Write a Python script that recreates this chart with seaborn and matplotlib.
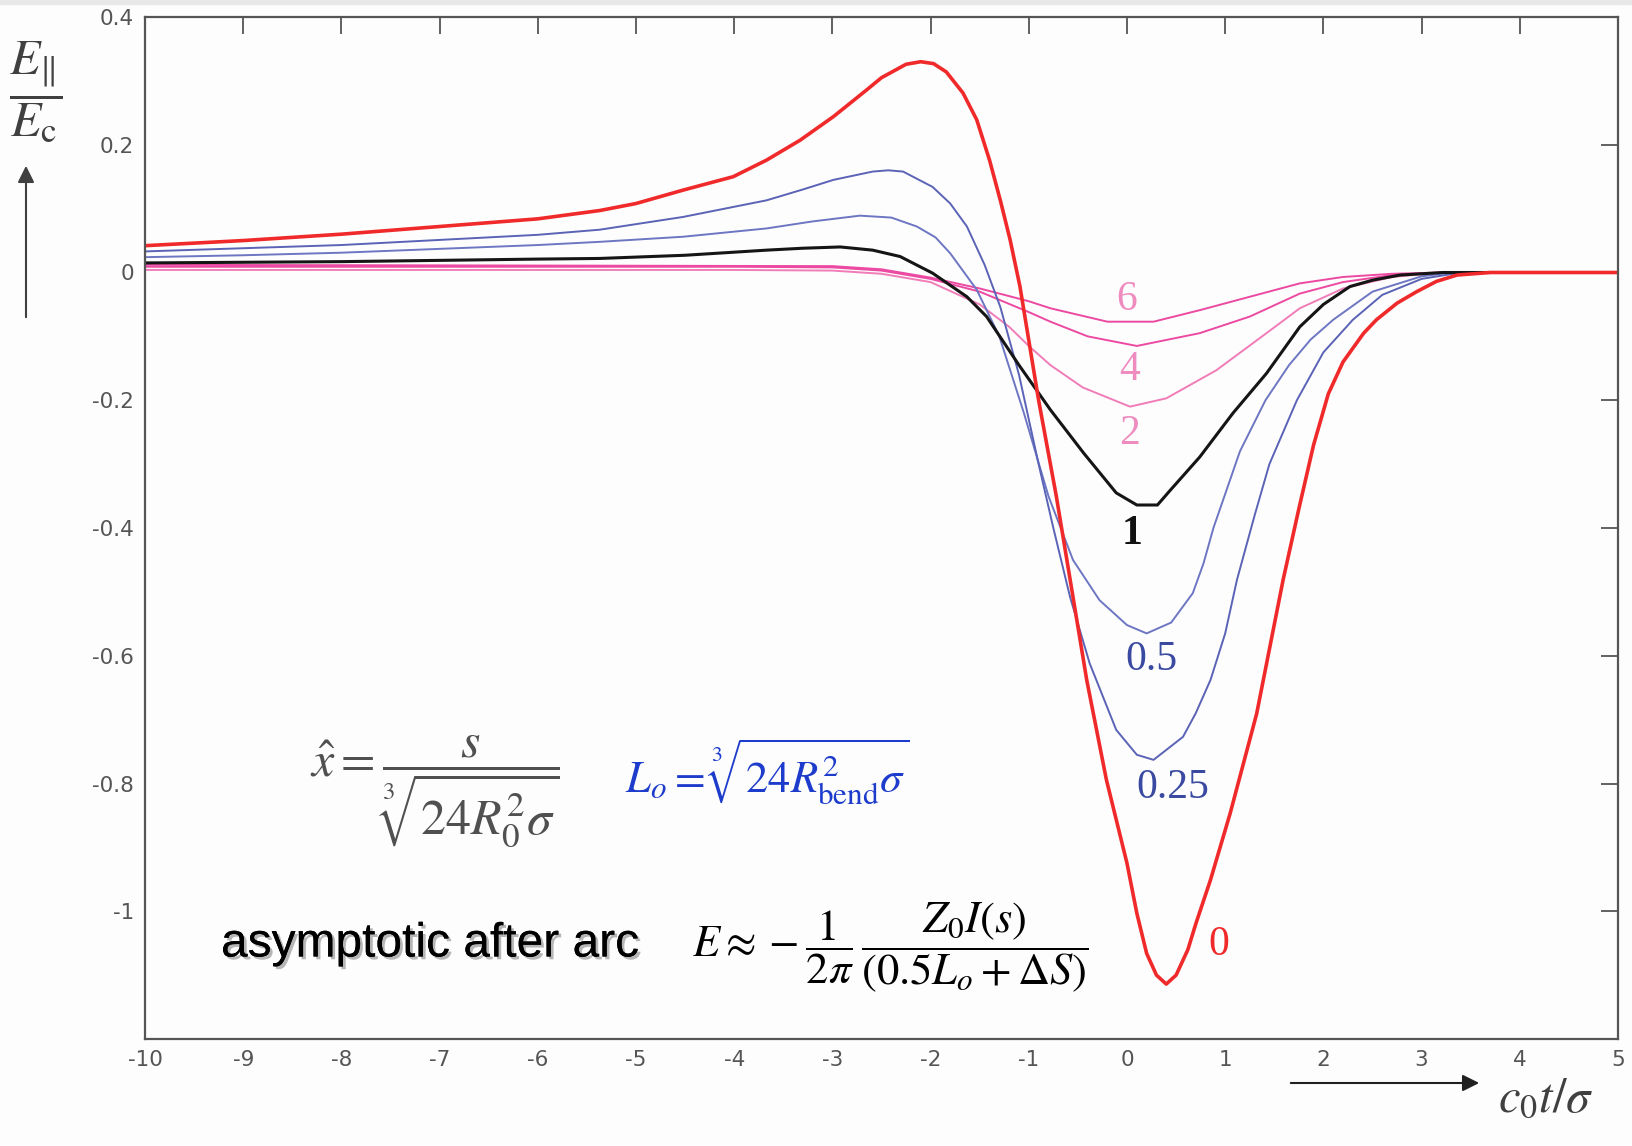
import numpy as np
import pandas as pd
import matplotlib
matplotlib.use("Agg")
import matplotlib.pyplot as plt
import matplotlib.patheffects as pe
import seaborn as sns

# ---------------- data ----------------
x_0 = [-10, -9, -8, -7.5, -7, -6, -5.37, -5.0, -4.52, -4.01, -3.67, -3.33, -2.99, -2.65, -2.5,
       -2.25, -2.10, -1.97, -1.84, -1.67, -1.53, -1.40, -1.29, -1.19, -1.09, -0.90, -0.72, -0.58,
       -0.41, -0.21, 0.0, 0.10, 0.20, 0.30, 0.40, 0.50, 0.62, 0.70, 0.85, 1.05, 1.32, 1.59, 1.75,
       1.90, 2.05, 2.20, 2.41, 2.54, 2.75, 2.95, 3.15, 3.36, 3.70, 4.0, 5.0]
y_0 = [0.042, 0.050, 0.060, 0.066, 0.072, 0.084, 0.097, 0.108, 0.129, 0.150, 0.176, 0.207, 0.244,
       0.286, 0.305, 0.326, 0.330, 0.327, 0.314, 0.281, 0.239, 0.176, 0.113, 0.051, -0.022,
       -0.20, -0.35, -0.48, -0.638, -0.794, -0.925, -1.003, -1.066, -1.100, -1.114, -1.100,
       -1.060, -1.020, -0.951, -0.847, -0.691, -0.481, -0.37, -0.27, -0.19, -0.14, -0.095,
       -0.074, -0.048, -0.030, -0.014, -0.004, 0.0, 0.0, 0.0]

x_025 = [-10, -9, -8, -7.5, -7, -6, -5.37, -4.52, -3.67, -3.3, -2.99, -2.59, -2.43, -2.28, -1.98,
         -1.80, -1.63, -1.45, -1.29, -1.10, -0.90, -0.75, -0.58, -0.38, -0.11, 0.10, 0.27, 0.57,
         0.70, 0.85, 1.00, 1.12, 1.30, 1.45, 1.73, 2.0, 2.30, 2.6, 3.0, 3.4, 3.7]
y_025 = [0.033, 0.038, 0.043, 0.047, 0.051, 0.059, 0.067, 0.087, 0.113, 0.130, 0.145, 0.158, 0.160,
         0.158, 0.134, 0.108, 0.072, 0.012, -0.054, -0.16, -0.30, -0.40, -0.508, -0.612, -0.716,
         -0.755, -0.763, -0.727, -0.690, -0.638, -0.565, -0.481, -0.38, -0.30, -0.20, -0.125,
         -0.074, -0.035, -0.010, 0.0, 0.0]

x_05 = [-10, -9, -8, -7.5, -7, -6, -5.37, -4.52, -3.67, -3.2, -2.72, -2.4, -2.14, -1.95, -1.80,
        -1.53, -1.30, -1.05, -0.80, -0.55, -0.28, 0.0, 0.20, 0.45, 0.67, 0.78, 0.88, 1.15, 1.41,
        1.65, 1.87, 2.10, 2.5, 3.0, 3.3, 3.7]
y_05 = [0.024, 0.027, 0.031, 0.034, 0.037, 0.043, 0.048, 0.056, 0.069, 0.080, 0.089, 0.086, 0.072,
        0.055, 0.030, -0.027, -0.10, -0.22, -0.35, -0.45, -0.513, -0.552, -0.565, -0.548, -0.502,
        -0.455, -0.40, -0.28, -0.20, -0.145, -0.105, -0.074, -0.03, -0.006, 0.0, 0.0]

x_1 = [-10, -9, -8, -7.5, -7, -6, -5.37, -4.5, -3.67, -3.3, -2.92, -2.59, -2.31, -1.98, -1.63,
       -1.43, -1.10, -0.78, -0.44, -0.11, 0.10, 0.31, 0.44, 0.74, 1.08, 1.42, 1.76, 2.0, 2.27,
       2.5, 2.78, 3.22, 3.7]
y_1 = [0.015, 0.016, 0.017, 0.018, 0.019, 0.021, 0.022, 0.027, 0.035, 0.038, 0.040, 0.035, 0.025,
       -0.001, -0.038, -0.069, -0.145, -0.215, -0.283, -0.345, -0.364, -0.364, -0.341, -0.289,
       -0.220, -0.158, -0.085, -0.050, -0.022, -0.012, -0.004, 0.0, 0.0]

x_2 = [-10, -4, -3, -2.5, -2.0, -1.5, -1.2, -1.0, -0.78, -0.45, 0.03, 0.40, 0.91, 1.42, 1.76,
       2.2, 2.7, 3.2, 3.7]
y_2 = [0.004, 0.004, 0.003, -0.002, -0.015, -0.050, -0.085, -0.115, -0.145, -0.180, -0.210,
       -0.197, -0.153, -0.095, -0.056, -0.025, -0.007, 0.0, 0.0]

x_4 = [-10, -4, -3, -2.5, -2, -1.5, -1.0, -0.78, -0.4, 0.10, 0.74, 1.25, 1.76, 2.2, 2.7, 3.2, 3.7]
y_4 = [0.009, 0.009, 0.008, 0.003, -0.010, -0.030, -0.062, -0.077, -0.100, -0.115, -0.095,
       -0.069, -0.033, -0.015, -0.004, 0.0, 0.0]

x_6 = [-10, -3, -2.5, -2, -1.5, -1.0, -0.78, -0.2, 0.27, 0.74, 1.25, 1.76, 2.2, 2.7, 3.2, 3.7]
y_6 = [0.012, 0.010, 0.005, -0.008, -0.025, -0.045, -0.056, -0.077, -0.077, -0.059, -0.038,
       -0.017, -0.007, -0.002, 0.0, 0.0]

x_ticks = list(range(-10, 6))
x_tick_labels = [str(v) for v in x_ticks]
y_ticks = [0.4, 0.2, 0, -0.2, -0.4, -0.6, -0.8, -1.0]
y_tick_labels = ["0.4", "0.2", "0", "-0.2", "-0.4", "-0.6", "-0.8", "-1"]

curve_labels = ["6", "4", "2", "1", "0.5", "0.25", "0"]
label_x = [0.0, 0.03, 0.03, 0.05, 0.25, 0.47, 0.94]
label_y = [-0.043, -0.152, -0.253, -0.41, -0.607, -0.806, -1.053]

# ---------------- style ----------------
sns.set_style("white")
plt.rcParams["font.family"] = ["DejaVu Sans"]
plt.rcParams["mathtext.fontset"] = "stix"

W, H = 1633, 1146
fig = plt.figure(figsize=(W / 100, H / 100), dpi=100, facecolor="#fdfdfd")

def fx(px):
    return px / W

def fy(py):
    return 1 - py / H

# thin light border like the screenshot
fig.patches.append(plt.Rectangle((0, fy(4)), 1, 4 / H, transform=fig.transFigure,
                                 color="#e8e8e8", zorder=0))

ax = fig.add_axes([fx(145), fy(1039), (1618 - 145) / W, (1039 - 17) / H])
ax.set_facecolor("#fdfdfd")

series = [
    (x_2, y_2, "#f07cb8", 1.4),
    (x_4, y_4, "#ec4aa2", 1.4),
    (x_6, y_6, "#ec4aa2", 1.4),
    (x_05, y_05, "#6d76c2", 1.4),
    (x_025, y_025, "#5a63b6", 1.4),
    (x_1, y_1, "#151515", 2.2),
    (x_0, y_0, "#f02a2a", 2.6),
]
for xs, ys, col, lw in series:
    df = pd.DataFrame({"x": xs, "y": ys})
    sns.lineplot(data=df, x="x", y="y", ax=ax, color=col, linewidth=lw,
                 estimator=None, sort=False)

ax.set_xlim(-10, 5)
ax.set_ylim(-1.2, 0.4)
ax.set_xticks(x_ticks)
ax.set_xticklabels(x_tick_labels)
ax.set_yticks(y_ticks)
ax.set_yticklabels(y_tick_labels)
ax.set_xlabel("")
ax.set_ylabel("")
ax.tick_params(direction="in", length=12, width=1.3, top=True, right=True,
               labeltop=False, labelright=False, color="#555555",
               labelcolor="#555555", labelsize=15.5, pad=8)
for sp in ax.spines.values():
    sp.set_color("#555555")
    sp.set_linewidth(1.6)

# curve labels
label_colors = ["#ee8cc0", "#ee8cc0", "#ee8cc0", "#111111", "#3a4aa0", "#3a4aa0", "#f02a2a"]
for t, lx, ly, c in zip(curve_labels, label_x, label_y, label_colors):
    ax.text(lx, ly, t, color=c, fontsize=30, ha="center", va="center",
            family="Liberation Serif", fontweight="bold" if t == "1" else "normal")

# formulas
fig.text(fx(310), fy(792), r"$\hat{x} = \dfrac{s}{\sqrt[3]{24R_0^2\sigma}}$",
         fontsize=36, color="#505050", ha="left", va="center")
fig.text(fx(625), fy(772), r"$L_o = \sqrt[3]{24R_{\mathrm{bend}}^2\sigma}$",
         fontsize=32, color="#1e3ccc", ha="left", va="center")
fig.text(fx(221), fy(944), "asymptotic after arc", fontsize=34.5, color="black",
         family="Liberation Sans", ha="left", va="center",
         path_effects=[pe.withSimplePatchShadow(offset=(2, -2), shadow_rgbFace="#888888",
                                                alpha=0.6), pe.Normal()])
fig.text(fx(692), fy(948),
         r"$E \approx -\dfrac{1}{2\pi}\,\dfrac{Z_0 I\left(s\right)}{\left(0.5L_o + \Delta S\right)}$",
         fontsize=32, color="black", ha="left", va="center")

# axis labels
fig.text(fx(36), fy(92), r"$\dfrac{E_{\Vert}}{E_{\mathrm{c}}}$", fontsize=36,
         color="#404040", ha="center", va="center")
fig.patches.append(matplotlib.patches.FancyArrowPatch(
    (fx(26), fy(320)), (fx(26), fy(163)), transform=fig.transFigure,
    arrowstyle="-|>,head_length=10,head_width=5", color="#404040", lw=1.5))
fig.patches.append(matplotlib.patches.FancyArrowPatch(
    (fx(1288), fy(1083)), (fx(1482), fy(1083)), transform=fig.transFigure,
    arrowstyle="-|>,head_length=10,head_width=5", color="#202020", lw=1.5))
fig.text(fx(1498), fy(1097), r"$c_0t/\sigma$", fontsize=35, color="#404040",
         ha="left", va="center")

fig.savefig("out.png", dpi=100, facecolor=fig.get_facecolor())
